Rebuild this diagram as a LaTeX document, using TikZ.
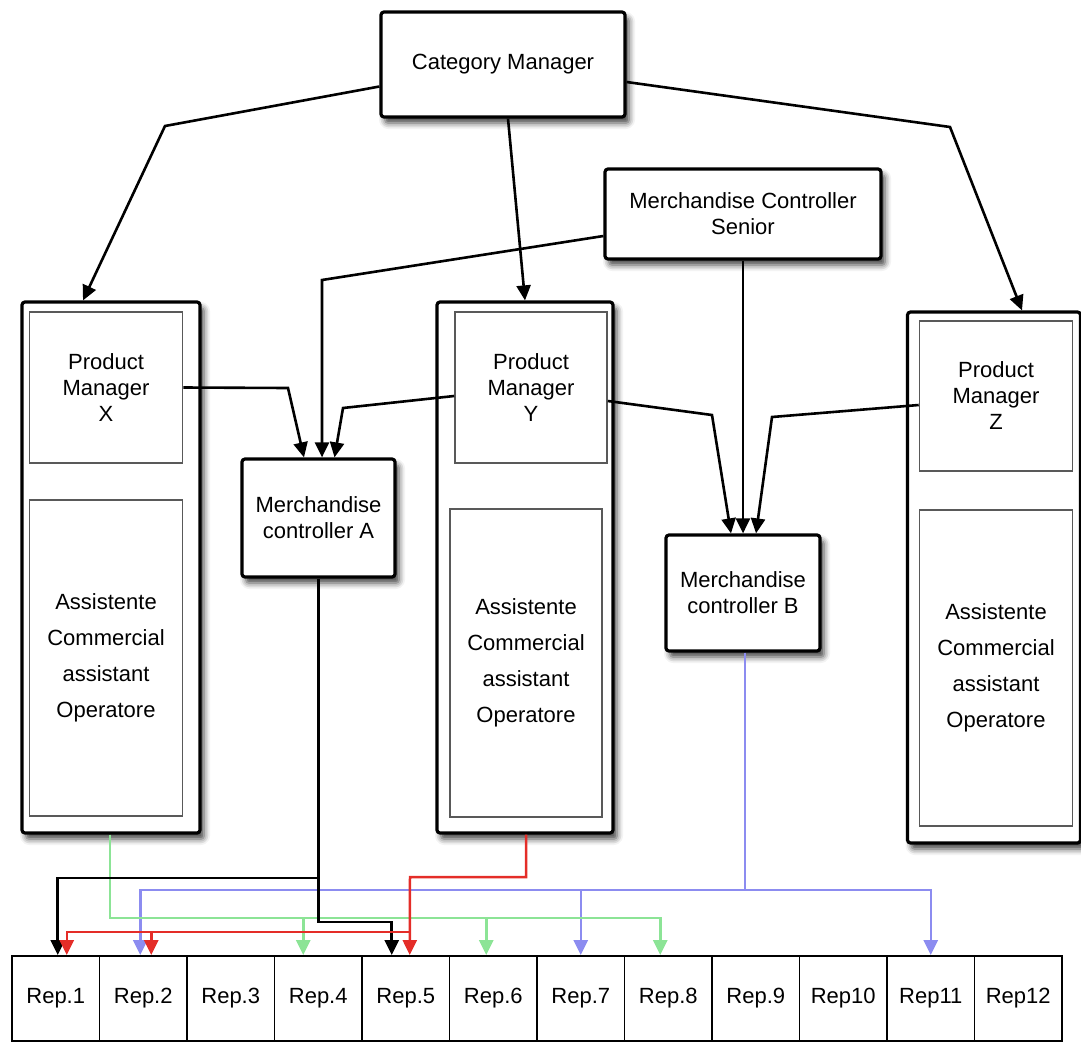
\documentclass[tikz,border=0pt]{standalone}
\usepackage{fontspec}
\setmainfont{Liberation Sans}
\usetikzlibrary{arrows.meta,shadows.blur}
\definecolor{linkred}{RGB}{228,45,40}
\definecolor{linkgreen}{RGB}{140,228,150}
\definecolor{linkblue}{RGB}{140,140,240}

\begin{document}
\begin{tikzpicture}
[x=0.5pt,y=-0.5pt,
every node/.style={font=\fontsize{11}{13}\selectfont,align=center,inner sep=0pt},
box/.style={shape=rectangle,rounded corners=1.5pt,draw,line width=1.6pt,fill=white,
  blur shadow={shadow xshift=2pt,shadow yshift=-3pt,shadow blur radius=3pt,shadow opacity=75}},
inbox/.style={shape=rectangle,draw=black!65,line width=0.8pt,fill=white},
rep/.style={shape=rectangle,draw,line width=0.9pt,minimum width=43.75pt,minimum height=42.5pt},
link/.style={line width=1.3pt,-{Triangle[length=7.5pt,width=7pt]}},
redlink/.style={link,draw=linkred,line width=1.25pt},
greenlink/.style={link,draw=linkgreen,line width=1.25pt},
bluelink/.style={link,draw=linkblue,line width=1.25pt}]

\useasboundingbox (0,0) rectangle (1081,1044);

% managers
\node[box,minimum width=122pt,minimum height=52.5pt] (cm) at (503,64.5) {Category Manager};
\node[box,minimum width=138pt,minimum height=45pt] (mcs) at (743,214) {Merchandise Controller\\Senior};

% product groups
\node[box,minimum width=89pt,minimum height=265.5pt] (pmx) at (111,567.5) {};
\node[inbox,minimum width=76.5pt,minimum height=75.5pt] (pmxt) at (106,387.5) {Product\\Manager\\X};
\node[inbox,minimum width=76.5pt,minimum height=158pt,font=\fontsize{11}{18}\selectfont] (pmxb) at (106,658)
  {Assistente\\Commercial\\assistant\\Operatore};

\node[box,minimum width=88pt,minimum height=265.5pt] (pmy) at (525,567.5) {};
\node[inbox,minimum width=76pt,minimum height=75.5pt] (pmyt) at (531,387.5) {Product\\Manager\\Y};
\node[inbox,minimum width=76pt,minimum height=154pt,font=\fontsize{11}{18}\selectfont] (pmyb) at (526,663)
  {Assistente\\Commercial\\assistant\\Operatore};

\node[box,minimum width=86.5pt,minimum height=265.5pt] (pmz) at (994,577.5) {};
\node[inbox,minimum width=76.5pt,minimum height=75pt] (pmzt) at (996,396) {Product\\Manager\\Z};
\node[inbox,minimum width=76.5pt,minimum height=158pt,font=\fontsize{11}{18}\selectfont] (pmzb) at (996,668)
  {Assistente\\Commercial\\assistant\\Operatore};

% controllers
\node[box,minimum width=76.5pt,minimum height=59pt] (ma) at (318.5,518) {Merchandise\\controller A};
\node[box,minimum width=77pt,minimum height=58pt] (mb) at (743,593) {Merchandise\\controller B};

% reps
\foreach \lab [count=\i] in {Rep.1,Rep.2,Rep.3,Rep.4,Rep.5,Rep.6,Rep.7,Rep.8,Rep.9,Rep10,Rep11,Rep12}
  \node[rep] (r\i) at ({55.75+87.5*(\i-1)},998.5) {\lab};

% top connectors
\draw[link] ([yshift=-11pt]cm.west) -- (165,126) -- ([xshift=-14pt]pmx.north);
\draw[link] ([xshift=2.5pt]cm.south) -- (pmy.north);
\draw[link] ([yshift=-8.75pt]cm.east) -- (950,127) -- ([xshift=14pt]pmz.north);
\draw[link] ([yshift=-11pt]mcs.west) -- (322,280) -- ([xshift=1.75pt]ma.north);
\draw[link] (pmxt.east) -- (288,388) -- ([xshift=-7.25pt]ma.north);
\draw[link] ([yshift=-4.25pt]pmyt.west) -- (343,408) -- ([xshift=8pt]ma.north);
\draw[link] ([yshift=-6.75pt]pmyt.east) -- (712,415) -- ([xshift=-6pt]mb.north);
\draw[link] (mcs.south) -- (mb.north);
\draw[link] ([yshift=-4.5pt]pmzt.west) -- (772,417) -- ([xshift=6.5pt]mb.north);

% bottom connectors
\coordinate (jb) at (745,890);
\draw[bluelink] ([xshift=1pt]mb.south) -- (jb) -| ([xshift=-1.5pt]r2.north);
\draw[bluelink] (jb) -| (r7.north);
\draw[bluelink] (jb) -| (r11.north);

\coordinate (jg) at (110,918);
\draw[greenlink] ([xshift=-0.5pt]pmx.south) -- (jg) -| ([xshift=-4pt]r8.north);
\draw[greenlink] (jg) -| ([xshift=-7.5pt]r4.north);
\draw[greenlink] (jg) -| ([xshift=-3.5pt]r6.north);

\coordinate (ja) at (318.5,878);
\draw[link] (ma.south) -- (ja) -| ([xshift=1pt]r1.north);
\draw[link] (ja) -- (318.5,922) -| ([xshift=-7pt]r5.north);

\coordinate (jr) at (410,877);
\coordinate (kr) at (410,932);
\draw[redlink] ([xshift=0.5pt]pmy.south) |- (jr) -- ([xshift=2pt]r5.north);
\draw[redlink] (kr) -| ([xshift=5.5pt]r1.north);
\draw[redlink] (kr) -| ([xshift=4pt]r2.north);
\end{tikzpicture}
\end{document}
